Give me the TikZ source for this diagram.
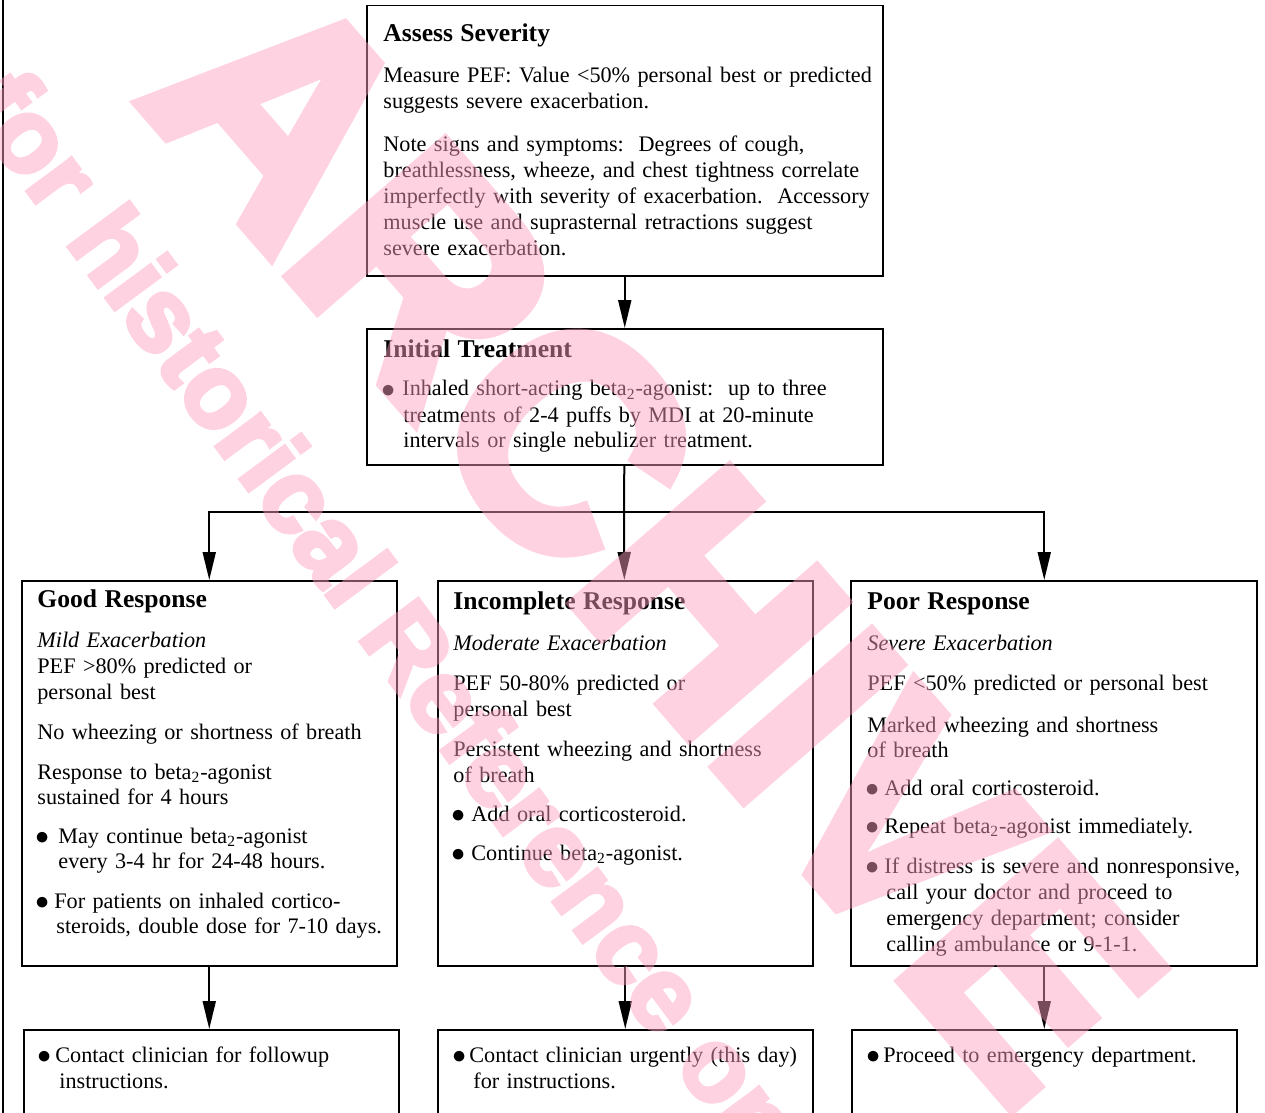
\documentclass[tikz,border=0pt]{standalone}
\usepackage{fontspec}
\setmainfont{Liberation Serif}
\newfontfamily\stampfont{Liberation Sans Bold}[FakeBold=4]
\usepackage{tikz}
\usetikzlibrary{arrows.meta}

\definecolor{wmpink}{RGB}{255,160,193}

\newcommand{\hd}[1]{{\fontsize{12.8}{13}\selectfont\bfseries #1}}
\newcommand{\bul}[1][8.5pt]{\makebox[#1][l]{\kern-1pt\raisebox{-0.7pt}{\scalebox{1.25}{$\bullet$}}}}
\newcommand{\ind}[1][9.5pt]{\hspace*{#1}}
\newcommand{\btwo}{beta\textsubscript{2}}

\begin{document}
\begin{tikzpicture}[x=0.5pt,y=-0.5pt,
	flow box/.style={draw, rectangle, line width=0.75pt, inner sep=0pt, anchor=north west},
	flow text/.style={anchor=base west, inner sep=0pt, align=left, font=\fontsize{11.1}{13}\selectfont},
	flow arrow/.style={line width=1pt, -{Triangle[length=14pt,width=6.5pt]}},
	stamp/.style={text=wmpink, inner sep=0pt}]

	\useasboundingbox (0,0) rectangle (1265,1113);
	\clip (0,0) rectangle (1265,1113);

	% page edge
	\draw[line width=0.75pt] (3,0) -- (3,1113);

	% boxes
	\node[flow box, minimum width=258pt, minimum height=135pt] (assess) at (366,5) {};
	\node[flow box, minimum width=258pt, minimum height=68pt] (initial) at (366,328) {};
	\node[flow box, minimum width=187.5pt, minimum height=192.5pt] (good) at (21,580) {};
	\node[flow box, minimum width=187.5pt, minimum height=192.5pt] (incomplete) at (437,580) {};
	\node[flow box, minimum width=203pt, minimum height=192.5pt] (poor) at (850,580) {};
	\node[flow box, minimum width=187.5pt, minimum height=60pt] (goodnext) at (23,1029) {};
	\node[flow box, minimum width=187.5pt, minimum height=60pt] (incompletenext) at (437,1029) {};
	\node[flow box, minimum width=192.5pt, minimum height=60pt] (poornext) at (851,1029) {};

	% texts
	\node[flow text, text width=252pt] (assess-txt) at (383,42) {\hd{Assess Severity}\\[7.5pt]
		Measure PEF: Value <50\% personal best or predicted\\
		suggests severe exacerbation.\\[8.5pt]
		Note signs and symptoms:\ \ Degrees of cough,\\
		breathlessness, wheeze, and chest tightness correlate\\
		imperfectly with severity of exacerbation.\ \ Accessory\\
		muscle use and suprasternal retractions suggest\\
		severe exacerbation.};

	\node[flow text, text width=245pt] (initial-txt) at (383,357) {\hd{Initial Treatment}\\[6.5pt]
		\bul[9.5pt]Inhaled short-acting \btwo-agonist:\ \ up to three\\
		\ind[10pt]treatments of 2-4 puffs by MDI at 20-minute\\
		\ind[10pt]intervals or single nebulizer treatment.};

	\node[flow text, text width=182pt] (good-txt) at (37,607) {\hd{Good Response}\\[7pt]
		{\itshape Mild Exacerbation}\\
		PEF >80\% predicted or\\
		personal best\\[7pt]
		No wheezing or shortness of breath\\[7pt]
		Response to \btwo-agonist\\[-0.5pt]
		sustained for 4 hours\\[6.5pt]
		\bul[10.5pt]May continue \btwo-agonist\\[-0.5pt]
		\ind[10.5pt]every 3-4 hr for 24-48 hours.\\[7pt]
		\bul[8.5pt]For patients on inhaled cortico-\\[-0.5pt]
		\ind[9.5pt]steroids, double dose for 7-10 days.};

	\node[flow text, text width=180pt] (incomplete-txt) at (453,609) {\hd{Incomplete Response}\\[7.5pt]
		{\itshape Moderate Exacerbation}\\[7pt]
		PEF 50-80\% predicted or\\
		personal best\\[7pt]
		Persistent wheezing and shortness\\
		of breath\\[6.5pt]
		\bul[9pt]Add oral corticosteroid.\\[6.5pt]
		\bul[9pt]Continue \btwo-agonist.};

	\node[flow text, text width=190pt] (poor-txt) at (867,609) {\hd{Poor Response}\\[7.5pt]
		{\itshape Severe Exacerbation}\\[7pt]
		PEF <50\% predicted or personal best\\[8pt]
		Marked wheezing and shortness\\[-0.5pt]
		of breath\\[6pt]
		\bul Add oral corticosteroid.\\[6pt]
		\bul Repeat \btwo-agonist immediately.\\[7pt]
		\bul If distress is severe and nonresponsive,\\
		\ind call your doctor and proceed to\\
		\ind emergency department; consider\\
		\ind calling ambulance or 9-1-1.};

	\node[flow text, text width=180pt] (goodnext-txt) at (39,1062) {\bul[8pt]Contact clinician for followup\\
		\ind[10pt]instructions.};
	\node[flow text, text width=180pt] (incompletenext-txt) at (454,1062) {\bul[7.5pt]Contact clinician urgently (this day)\\
		\ind[9.5pt]for instructions.};
	\node[flow text, text width=180pt] (poornext-txt) at (868,1062) {\bul[7.5pt]Proceed to emergency department.};

	% connectors
	\coordinate (split) at (624,512);
	\draw[flow arrow] (assess) -- (initial);
	\draw[line width=1pt] (initial) -- (split);
	\draw[flow arrow] (split) -| (good.north);
	\draw[flow arrow] (split) -- (incomplete);
	\draw[flow arrow] (split) -| (poornext.north |- poor.north);
	\draw[flow arrow] (good.south) -- (good.south |- goodnext.north);
	\draw[flow arrow] (incomplete) -- (incompletenext);
	\draw[flow arrow] (poornext.north |- poor.south) -- (poornext.north);

	% archive stamp
	\begin{scope}[transparency group, opacity=0.47]
		\node[stamp, rotate=-49, font=\fontsize{150}{152}\stampfont] (stamp-word) at (655,540) {ARCHIVE};
		\node[stamp, rotate=-53.5, font=\fontsize{52}{54}\stampfont] (stamp-line) at (404,655) {for historical Reference only};
	\end{scope}
\end{tikzpicture}
\end{document}
